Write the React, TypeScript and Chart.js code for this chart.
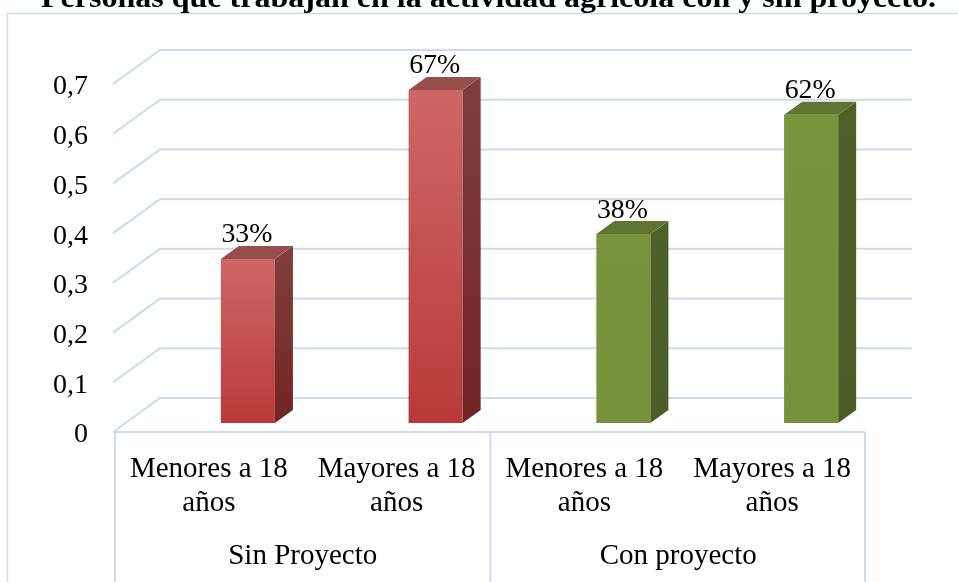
import React, { useEffect, useRef } from "react";
import { Chart, registerables } from "chart.js";

Chart.register(...registerables);

const titleText = "Personas que trabajan en la actividad agrícola con y sin proyecto.";
const categories: string[][] = [
  ["Menores a 18", "años"],
  ["Mayores a 18", "años"],
  ["Menores a 18", "años"],
  ["Mayores a 18", "años"],
];
const groups: string[] = ["Sin Proyecto", "Con proyecto"];
const values: number[] = [0.33, 0.67, 0.38, 0.62];
const yMax = 0.7;
const yStep = 0.1;

const FONT = "'Liberation Serif', 'Times New Roman', serif";
const GRID = "#cddaee";

const palette = [
  { top: "rgb(205,104,102)", bottom: "rgb(184,58,56)", sideTop: "rgb(130,62,62)", sideBottom: "rgb(114,36,36)", cap: "rgb(152,78,76)" },
  { top: "rgb(205,104,102)", bottom: "rgb(184,58,56)", sideTop: "rgb(130,62,62)", sideBottom: "rgb(114,36,36)", cap: "rgb(152,78,76)" },
  { top: "rgb(121,148,61)", bottom: "rgb(119,146,59)", sideTop: "rgb(79,96,40)", sideBottom: "rgb(76,93,39)", cap: "rgb(95,118,50)" },
  { top: "rgb(121,148,61)", bottom: "rgb(119,146,59)", sideTop: "rgb(79,96,40)", sideBottom: "rgb(76,93,39)", cap: "rgb(95,118,50)" },
];

const DX = 18;
const DY = 13;

function stretchedText(ctx: any, text: string, cx: number, baseline: number, font: string, targetW: number) {
  ctx.save();
  ctx.font = font;
  ctx.textAlign = "center";
  ctx.textBaseline = "alphabetic";
  const w = ctx.measureText(text).width || 1;
  const s = targetW / w;
  ctx.translate(cx, baseline);
  ctx.scale(s, 1);
  ctx.fillText(text, 0, 0);
  ctx.restore();
}

const framePlugin = {
  id: "frame3d",
  beforeDatasetsDraw(chart: any) {
    const { ctx, chartArea, scales } = chart;
    const y = scales.y;
    const x = scales.x;
    ctx.save();
    ctx.strokeStyle = GRID;
    ctx.lineWidth = 1.5;
    ctx.beginPath();
    ctx.moveTo(7.5, chart.height);
    ctx.lineTo(7.5, 13.5);
    ctx.lineTo(chart.width, 13.5);
    ctx.stroke();

    ctx.lineWidth = 2;
    const frontL = chartArea.left - 41;
    const backL = chartArea.left + 6;
    const backR = chartArea.right + 7;
    for (const t of y.ticks) {
      const py = y.getPixelForValue(t.value);
      ctx.beginPath();
      ctx.moveTo(frontL, py + 9);
      ctx.lineTo(backL, py - 25);
      ctx.lineTo(backR, py - 25);
      ctx.stroke();
    }
    const y0 = y.getPixelForValue(0) + 9;
    const fl = chartArea.left - 39;
    const fr = chartArea.right - 40;
    const mid = (x.getPixelForValue(1) + x.getPixelForValue(2)) / 2 - 39;
    ctx.beginPath();
    ctx.moveTo(fl, y0);
    ctx.lineTo(fr, y0);
    ctx.moveTo(fl, y0);
    ctx.lineTo(fl, chart.height);
    ctx.moveTo(mid, y0);
    ctx.lineTo(mid, chart.height);
    ctx.moveTo(fr, y0);
    ctx.lineTo(fr, chart.height);
    ctx.stroke();
    ctx.restore();
  },
  afterDatasetsDraw(chart: any) {
    const { ctx } = chart;
    const meta = chart.getDatasetMeta(0);
    ctx.save();
    meta.data.forEach((bar: any, i: number) => {
      const p = palette[i % palette.length];
      const w = bar.width;
      const left = bar.x - w / 2;
      const right = bar.x + w / 2;
      const top = bar.y;
      const base = bar.base;
      const g = ctx.createLinearGradient(0, top - DY, 0, base);
      g.addColorStop(0, p.sideTop);
      g.addColorStop(1, p.sideBottom);
      ctx.fillStyle = g;
      ctx.beginPath();
      ctx.moveTo(right, top);
      ctx.lineTo(right + DX, top - DY);
      ctx.lineTo(right + DX, base - DY);
      ctx.lineTo(right, base);
      ctx.closePath();
      ctx.fill();
      ctx.fillStyle = p.cap;
      ctx.beginPath();
      ctx.moveTo(left, top);
      ctx.lineTo(left + DX, top - DY);
      ctx.lineTo(right + DX, top - DY);
      ctx.lineTo(right, top);
      ctx.closePath();
      ctx.fill();
      ctx.fillStyle = "#000";
      stretchedText(ctx, Math.round(values[i] * 100) + "%", bar.x - 1, top - 16.5, `28px ${FONT}`, 51);
    });
    ctx.restore();
  },
  afterDraw(chart: any) {
    const { ctx } = chart;
    ctx.save();
    ctx.fillStyle = "#000";
    stretchedText(ctx, titleText, 488.5, 7, `bold 30px ${FONT}`, 895);
    ctx.restore();
  },
};

export default function App() {
  const ref = useRef<HTMLCanvasElement | null>(null);
  useEffect(() => {
    document.body.style.margin = "0";
    if (!ref.current) return;
    const chart = new Chart(ref.current, {
      type: "bar",
      data: {
        labels: categories as any,
        datasets: [
          {
            data: values,
            backgroundColor: (c: any) => {
              const i = c.dataIndex ?? 0;
              const p = palette[i % palette.length];
              const ch = c.chart;
              if (!ch.chartArea || !ch.scales.y) return p.bottom;
              const yTop = ch.scales.y.getPixelForValue(values[i]);
              const yBot = ch.scales.y.getPixelForValue(0);
              const g = ch.ctx.createLinearGradient(0, yTop, 0, yBot);
              g.addColorStop(0, p.top);
              g.addColorStop(1, p.bottom);
              return g;
            },
            borderWidth: 0,
            barPercentage: 0.288,
            categoryPercentage: 1,
          },
        ],
      },
      options: {
        responsive: false,
        animation: false,
        events: [],
        layout: { padding: { top: 75, right: 53, bottom: 0, left: 0 } },
        plugins: { legend: { display: false }, tooltip: { enabled: false }, title: { display: false } },
        scales: {
          x: {
            position: "bottom",
            grid: { display: false, drawTicks: false },
            border: { display: false },
            ticks: {
              color: "#000",
              font: { family: FONT, size: 29, lineHeight: 1.17 },
              padding: 29,
              labelOffset: -39,
              maxRotation: 0,
              autoSkip: false,
            },
            afterFit: (axis: any) => {
              axis.height = 100;
            },
          },
          x2: {
            type: "category",
            position: "bottom",
            labels: groups,
            offset: true,
            grid: { display: false, drawTicks: false },
            border: { display: false },
            ticks: {
              color: "#000",
              font: { family: FONT, size: 29, lineHeight: 1.17 },
              padding: 16,
              labelOffset: -39,
              maxRotation: 0,
              autoSkip: false,
            },
            afterFit: (axis: any) => {
              axis.height = 59;
            },
          },
          y: {
            min: 0,
            max: yMax,
            grid: { display: false, drawTicks: false },
            border: { display: false },
            ticks: {
              stepSize: yStep,
              color: "#000",
              font: { family: FONT, size: 28 },
              padding: 66,
              labelOffset: 12,
              callback: (v: any) => (Number(v) === 0 ? "0" : Number(v).toFixed(1).replace(".", ",")),
            },
            afterFit: (axis: any) => {
              axis.width = 154;
              axis.paddingTop = 0;
              axis.paddingBottom = 0;
            },
          },
        },
      },
      plugins: [framePlugin],
    });
    return () => chart.destroy();
  }, []);
  return (
    <div style={{ position: "fixed", left: 0, top: 0, width: 958, height: 582, background: "#fff" }}>
      <canvas ref={ref} width={958} height={582} style={{ width: 958, height: 582 }} />
    </div>
  );
}
